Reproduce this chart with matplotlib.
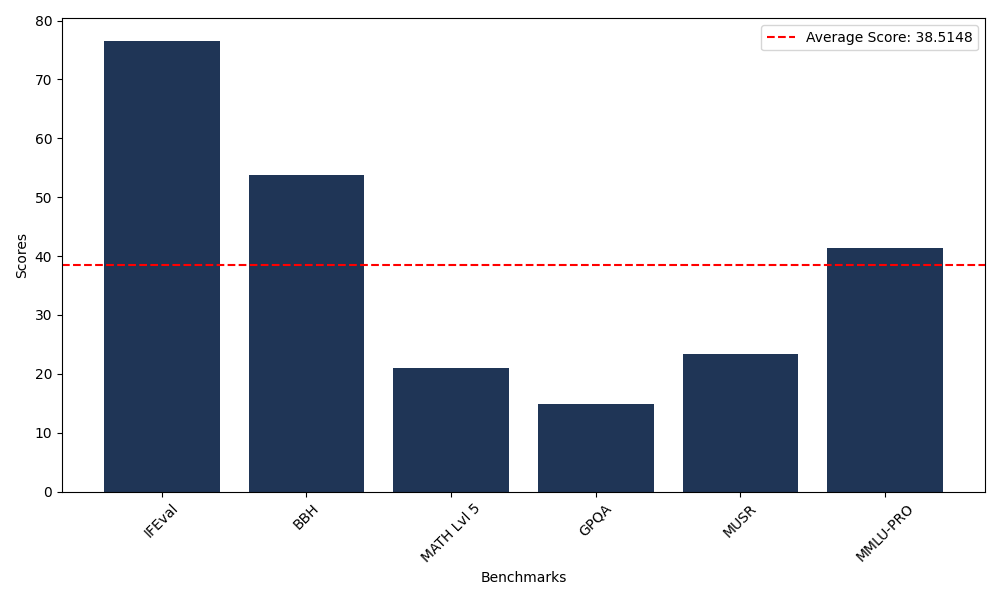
import numpy as np
import matplotlib
matplotlib.use("Agg")
import matplotlib.pyplot as plt

# benchmark scores
benchmarks = ["IFEval", "BBH", "MATH Lvl 5", "GPQA", "MUSR", "MMLU-PRO"]
scores = [76.55, 53.80, 21.00, 14.90, 23.40, 41.44]
avg_score = 38.5148

fig, ax = plt.subplots(figsize=(10, 6), dpi=100)
ax.bar(benchmarks, scores, color="#1f3556")
ax.axhline(avg_score, color="red", linestyle="--", label=f"Average Score: {avg_score}")
ax.set_xlabel("Benchmarks")
ax.set_ylabel("Scores")
plt.xticks(rotation=45)
ax.legend(loc="upper right")
plt.tight_layout()
plt.savefig("out.png")
